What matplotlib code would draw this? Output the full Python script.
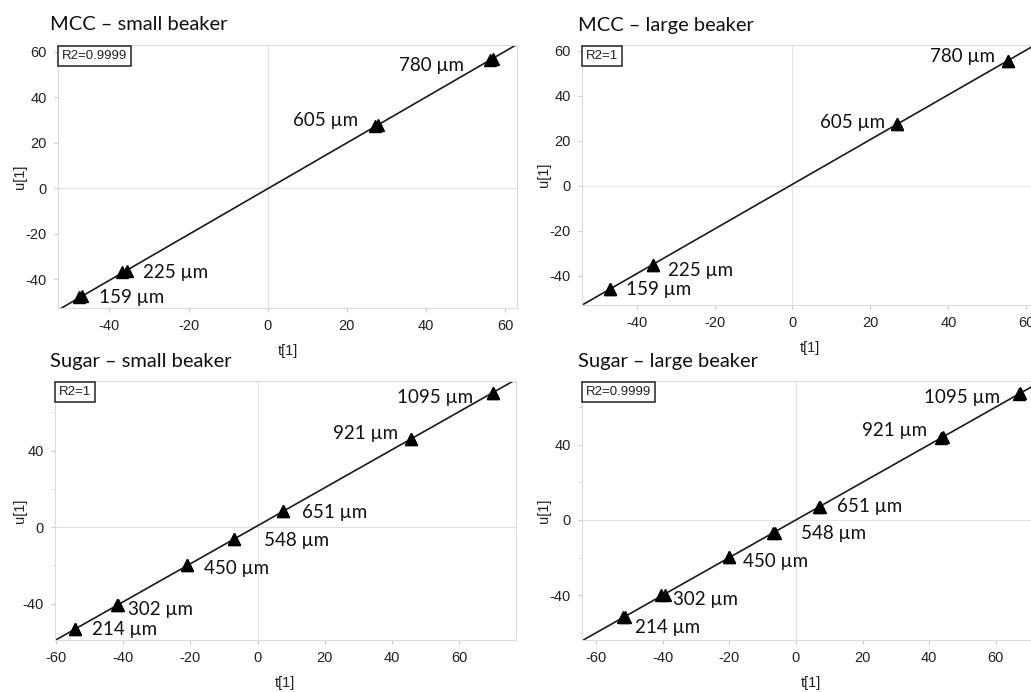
import numpy as np
import matplotlib
matplotlib.use("Agg")
import matplotlib.pyplot as plt
from matplotlib.ticker import MultipleLocator

plt.rcParams["axes.unicode_minus"] = False

# ---- data (t[1] vs u[1]) ----
mcc_small_labels = ["159 µm", "225 µm", "605 µm", "780 µm"]
mcc_small_t = [-47.6, -36.8, 27.0, 56.2]
mcc_small_u = [-47.9, -36.9, 27.3, 56.5]
mcc_small_t_rep = [-47.0, -35.6, 27.9, 56.8]
mcc_small_u_rep = [-47.5, -36.4, 27.7, 57.0]

mcc_large_labels = ["159 µm", "225 µm", "605 µm", "780 µm"]
mcc_large_t = [-46.7, -35.9, 26.7, 55.4]
mcc_large_u = [-45.9, -35.0, 27.5, 55.5]
mcc_large_t_rep = [-46.7, -35.9, 26.7, 55.4]
mcc_large_u_rep = [-45.9, -35.0, 27.5, 55.5]

sugar_small_labels = ["214 µm", "302 µm", "450 µm", "548 µm", "651 µm", "921 µm", "1095 µm"]
sugar_small_t = [-54.2, -41.9, -20.9, -7.1, 7.4, 45.5, 69.9]
sugar_small_u = [-53.4, -40.8, -19.9, -6.3, 8.4, 46.0, 70.2]
sugar_small_t_rep = [-54.2, -41.6, -20.9, -7.1, 7.4, 45.7, 69.9]
sugar_small_u_rep = [-53.4, -40.6, -19.9, -6.3, 8.4, 46.0, 70.2]

sugar_large_labels = ["214 µm", "302 µm", "450 µm", "548 µm", "651 µm", "921 µm", "1095 µm"]
sugar_large_t = [-52.0, -40.6, -20.1, -6.9, 7.0, 43.6, 66.8]
sugar_large_u = [-51.9, -40.2, -19.7, -7.0, 7.0, 43.8, 67.4]
sugar_large_t_rep = [-51.2, -39.2, -20.1, -6.3, 7.2, 44.1, 67.3]
sugar_large_u_rep = [-51.5, -39.9, -19.7, -6.8, 7.1, 44.0, 67.7]

r2_text = ["R2=0.9999", "R2=1", "R2=1", "R2=0.9999"]
titles = ["MCC – small beaker", "MCC – large beaker",
          "Sugar – small beaker", "Sugar – large beaker"]

# ---- layout / styling ----
label_font = "Lato"
tick_font = "Liberation Sans"

panels = [
    dict(labels=mcc_small_labels, t=mcc_small_t, u=mcc_small_u,
         t2=mcc_small_t_rep, u2=mcc_small_u_rep,
         rect=[0.0563, 0.5549, 0.4452, 0.380], xlim=(-53, 63), ylim=(-52.6, 63),
         xmaj=20, ymaj=20, yminor=None,
         offs=[(14, 0), (15, 0), (-12, 4), (-19, -4)],
         title_xy=(50, 25), ylab_x=27, xpad=8),
    dict(labels=mcc_large_labels, t=mcc_large_t, u=mcc_large_u,
         t2=mcc_large_t_rep, u2=mcc_large_u_rep,
         rect=[0.5645, 0.5592, 0.4423, 0.3757], xlim=(-54, 63), ylim=(-53, 62.5),
         xmaj=20, ymaj=20, yminor=None,
         offs=[(11, 0), (11, -4), (-8, 1), (-10, 3)],
         title_xy=(578, 25), ylab_x=551, xpad=8),
    dict(labels=sugar_small_labels, t=sugar_small_t, u=sugar_small_u,
         t2=sugar_small_t_rep, u2=sugar_small_u_rep,
         rect=[0.0533, 0.0751, 0.447, 0.3743], xlim=(-60.3, 76.8), ylim=(-59, 76.4),
         xmaj=20, ymaj=40, yminor=20,
         offs=[(12, 0), (8, -3), (12, -2), (22, -1), (14, -1), (-9, 4), (-14, -3)],
         title_xy=(50, 362), ylab_x=27, xpad=8),
    dict(labels=sugar_large_labels, t=sugar_large_t, u=sugar_large_u,
         t2=sugar_large_t_rep, u2=sugar_large_u_rep,
         rect=[0.5645, 0.0751, 0.4435, 0.3743], xlim=(-64.2, 73), ylim=(-64, 74.1),
         xmaj=20, ymaj=40, yminor=20,
         offs=[(9, -7), (9, -3), (10, -3), (20, 0), (13, 0), (-10, 5), (-13, -3)],
         title_xy=(578, 362), ylab_x=551, xpad=8),
]

W, H = 1031, 692
fig = plt.figure(figsize=(W / 100, H / 100), dpi=100)

for i, p in enumerate(panels):
    ax = fig.add_axes(p["rect"])
    ax.set_xlim(*p["xlim"])
    ax.set_ylim(*p["ylim"])
    for s in ax.spines.values():
        s.set_color("#dcdcdc")
        s.set_linewidth(0.8)
    ax.axhline(0, color="#e2e2e2", lw=0.8, zorder=0)
    ax.axvline(0, color="#e2e2e2", lw=0.8, zorder=0)

    ax.xaxis.set_major_locator(MultipleLocator(p["xmaj"]))
    ax.yaxis.set_major_locator(MultipleLocator(p["ymaj"]))
    if p["yminor"]:
        ax.yaxis.set_minor_locator(MultipleLocator(p["yminor"]))
    ax.tick_params(which="both", length=3, color="#cccccc", labelsize=10.5,
                   labelcolor="#222222", pad=5)
    ax.tick_params(which="minor", length=2)
    for lab in ax.get_xticklabels() + ax.get_yticklabels():
        lab.set_fontfamily(tick_font)

    # fitted line through all points
    tt = np.array(p["t"] + p["t2"])
    uu = np.array(p["u"] + p["u2"])
    k, b = np.polyfit(tt, uu, 1)
    ax.axline((0, b), slope=k, color="#1a1a1a", lw=1.2, zorder=2)

    ax.plot(p["t2"], p["u2"], "^", color="black", ms=9, zorder=3)
    ax.plot(p["t"], p["u"], "^", color="black", ms=9, zorder=3)

    for lab, x, y, off in zip(p["labels"], p["t"], p["u"], p["offs"]):
        ax.annotate(lab, (x, y), xytext=off, textcoords="offset points",
                    ha="left" if off[0] > 0 else "right", va="center",
                    fontsize=13.5, family=label_font, color="#111111")

    ax.text(0.008, 0.982, r2_text[i], transform=ax.transAxes, ha="left", va="top",
            fontsize=9.5, family=tick_font, color="#222222",
            bbox=dict(boxstyle="square,pad=0.3", fc="white", ec="#222222", lw=1.1))

    ax.set_xlabel("t[1]", fontsize=10.5, family=tick_font, color="#222222",
                  labelpad=p["xpad"])
    ax.set_ylabel("u[1]", fontsize=10.5, family=tick_font, color="#222222")
    ax.yaxis.set_label_coords((p["ylab_x"] - p["rect"][0] * W) / (p["rect"][2] * W), 0.5)

    tx, ty = p["title_xy"]
    fig.text(tx / W, 1 - ty / H, titles[i], fontsize=14.5, family=label_font,
             color="#111111", ha="left", va="center")

fig.savefig("out.png", dpi=100)
